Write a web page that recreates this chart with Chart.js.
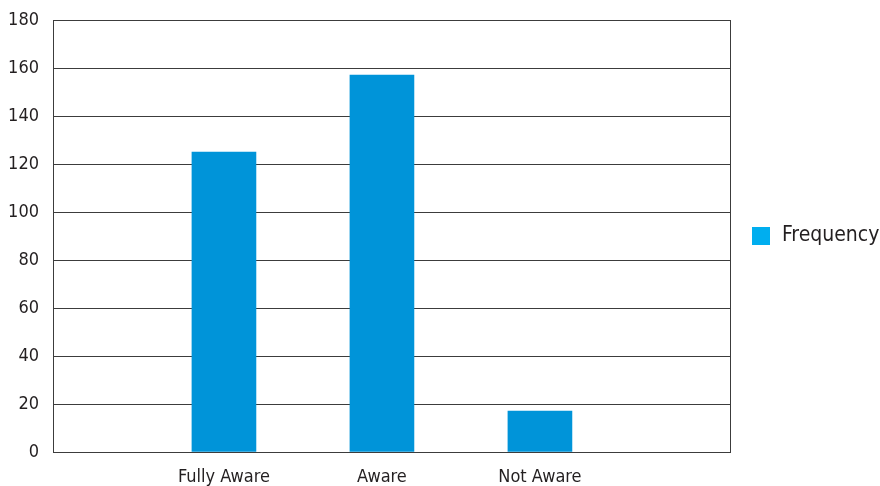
<!DOCTYPE html>
<html>
<head>
<meta charset="utf-8">
<script src="https://cdn.jsdelivr.net/npm/chart.js@4.4.0/dist/chart.umd.min.js"></script>
<style>
  html, body { margin: 0; padding: 0; background: #fff; }
  #wrap { width: 880px; height: 486px; }
</style>
</head>
<body>
<div id="wrap"><canvas id="awareness"></canvas></div>
<script>
// awareness survey results
const categories = ['Fully Aware', 'Aware', 'Not Aware'];
const frequency = [125, 157, 17];
const yTicks = [0, 20, 40, 60, 80, 100, 120, 140, 160, 180];

const FONT = '"Liberation Sans Narrow", "Arial Narrow", "DejaVu Sans Condensed", sans-serif';
const lineColor = '#3c3c3c';
const textColor = '#231f20';

const ctx = document.getElementById('awareness').getContext('2d');

new Chart(ctx, {
    type: 'bar',
    data: {
        datasets: [{
            label: 'Frequency',
            data: frequency.map((v, i) => ({ x: i + 1, y: v })),
            backgroundColor: '#0094d9',
            borderWidth: 0,
            barThickness: 64
        }]
    },
    options: {
        responsive: true,
        maintainAspectRatio: false,
        animation: false,
        layout: { padding: { top: 20, right: 0, left: 0, bottom: 0 } },
        plugins: {
            tooltip: { enabled: false },
            legend: {
                position: 'right',
                fullSize: false,   // keep legend centred on the plot area, not the canvas
                maxWidth: 150,
                labels: {
                    usePointStyle: true,
                    pointStyle: 'rect',
                    boxHeight: 18,
                    padding: 20.5,
                    color: textColor,
                    font: { family: FONT, size: 21 },
                    generateLabels: (chart) => {
                        const items = Chart.defaults.plugins.legend.labels.generateLabels(chart);
                        items.forEach(it => { it.fillStyle = '#00aeef'; it.strokeStyle = '#00aeef'; it.lineWidth = 0; });
                        return items;
                    }
                }
            }
        },
        scales: {
            x: {
                type: 'linear',
                offset: false,
                min: -0.082,
                max: 4.203,
                grid: { display: false, drawTicks: false },
                border: { color: lineColor, width: 1 },
                afterBuildTicks: (scale) => {
                    scale.ticks = categories.map((c, i) => ({ value: i + 1 }));
                },
                afterFit: (scale) => { scale.height = 34; scale.paddingLeft = 0; scale.paddingRight = 0; },
                ticks: {
                    padding: 15,
                    color: textColor,
                    font: { family: FONT, size: 18 },
                    callback: (v) => categories[v - 1] || ''
                }
            },
            y: {
                min: 0,
                max: 180,
                afterBuildTicks: (scale) => {
                    scale.ticks = yTicks.map(v => ({ value: v }));
                },
                afterFit: (scale) => { scale.width = 53; scale.paddingTop = 0; scale.paddingBottom = 0; },
                grid: { color: lineColor, lineWidth: 1, drawTicks: false },
                border: { color: lineColor, width: 1 },
                ticks: {
                    padding: 14,
                    color: textColor,
                    font: { family: FONT, size: 18 }
                }
            },
            yRight: {
                position: 'right',
                min: 0,
                max: 180,
                grid: { display: false, drawTicks: false },
                ticks: { display: false },
                border: { color: lineColor, width: 1 },
                afterFit: (scale) => { scale.width = 0; scale.paddingTop = 0; scale.paddingBottom = 0; }
            }
        }
    }
});
</script>
</body>
</html>
